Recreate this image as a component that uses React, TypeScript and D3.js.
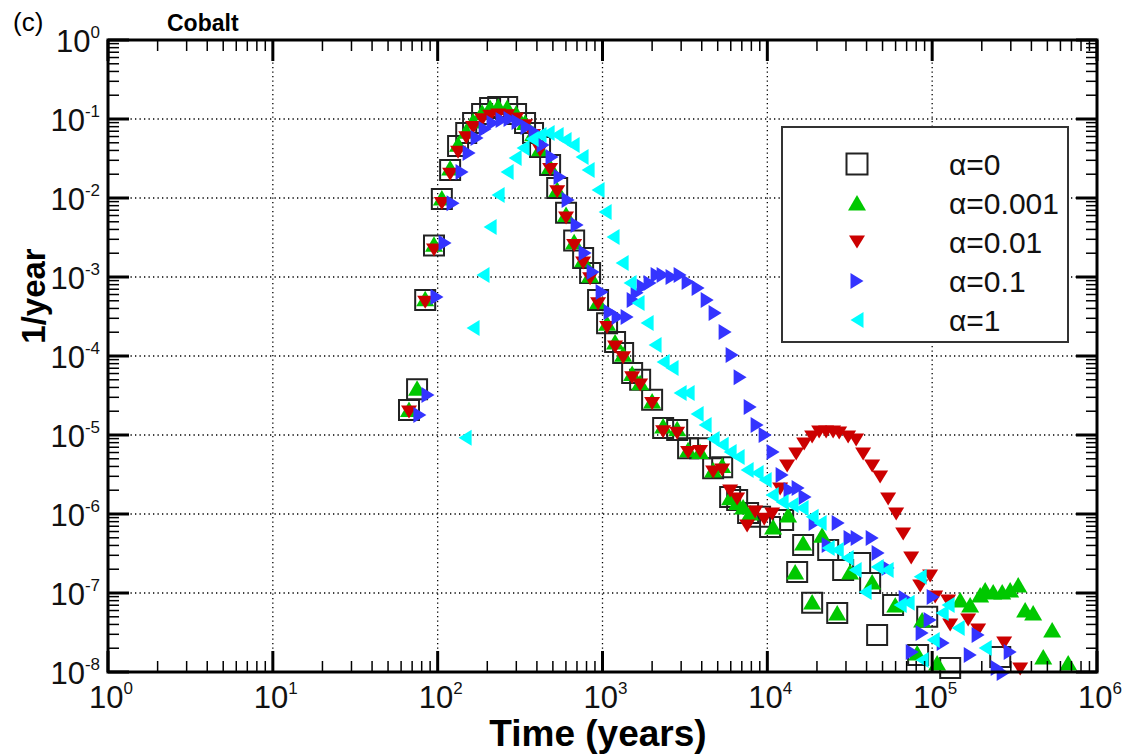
import React from "react";
import * as d3 from "d3";

const W = 1125;
const H = 756;
const PL = 108, PR = 1097, PT = 40, PB = 672;

const xTickValues = [1, 10, 100, 1000, 10000, 100000, 1000000];
const xTickExps = ["0", "1", "2", "3", "4", "5", "6"];
const yTickValues = [1, 1e-1, 1e-2, 1e-3, 1e-4, 1e-5, 1e-6, 1e-7, 1e-8];
const yTickExps = ["0", "-1", "-2", "-3", "-4", "-5", "-6", "-7", "-8"];

const seriesLabels = ["α=0", "α=0.001", "α=0.01", "α=0.1", "α=1"];
const seriesColors = ["none", "#00c800", "#cc0000", "#3434ff", "#00ffff"];

// alpha = 0 (open squares)
const alpha0: [number, number][] = [
  [67, 2.07e-5], [75, 3.8e-5], [84, 5.1e-4], [95, 2.5e-3], [106, 9.7e-3], [119, 0.0226],
  [133, 0.0455], [149, 0.0665], [164, 0.089], [186, 0.116], [208, 0.138], [233, 0.142],
  [264, 0.142], [299, 0.116], [339, 0.089], [379, 0.0665], [418, 0.0442], [481, 0.0262],
  [531, 0.0134], [601, 6.5e-3], [673, 2.9e-3], [763, 1.74e-3], [841, 1.12e-3], [940, 5.1e-4],
  [1066, 2.6e-4], [1192, 1.5e-4], [1334, 1.09e-4], [1513, 6.1e-5], [1692, 5.0e-5], [2000, 2.8e-5],
  [2333, 1.23e-5], [2838, 1.16e-5], [3306, 6.8e-6], [3909, 6.8e-6], [4690, 3.8e-6], [5322, 3.9e-6],
  [5946, 1.64e-6], [6561, 1.5e-6], [7644, 1.03e-6], [9036, 9.2e-7], [10390, 6.85e-7], [12470, 8.4e-7],
  [16490, 4.05e-7], [15170, 1.85e-7], [18700, 7.5e-8], [23400, 3.5e-7], [26550, 5.6e-8],
  [28840, 1.95e-7], [36560, 2.4e-7], [42050, 1.34e-7], [46360, 2.94e-8], [57940, 7.05e-8],
  [82200, 1.64e-8], [93300, 5.0e-8], [128600, 1.12e-8], [258800, 1.55e-8],
];

// alpha = 0.001 (green up triangles)
const alpha0001: [number, number][] = [
  [67, 2.1e-5], [75, 3.9e-5], [84, 5.3e-4], [95, 2.6e-3], [106, 1.0e-2], [119, 0.024],
  [133, 0.048], [149, 0.07], [164, 0.094], [186, 0.122], [208, 0.14], [233, 0.145],
  [264, 0.14], [299, 0.118], [339, 0.09], [379, 0.065], [418, 0.042], [481, 0.025],
  [531, 0.0128], [601, 6.2e-3], [673, 2.8e-3], [763, 1.65e-3], [841, 1.05e-3], [940, 4.9e-4],
  [1066, 2.6e-4], [1192, 1.5e-4], [1334, 1.05e-4], [1513, 6.0e-5], [1692, 4.6e-5], [2000, 2.7e-5],
  [2333, 1.3e-5], [2838, 1.2e-5], [3306, 6.5e-6], [3909, 6.2e-6], [4690, 3.6e-6], [5322, 4.1e-6],
  [5946, 1.6e-6], [6561, 1.4e-6], [7130, 1.23e-6], [7870, 1.03e-6], [10840, 6.85e-7], [13370, 9.7e-7],
  [14750, 1.85e-7], [16490, 4.3e-7], [18700, 7.7e-8], [21500, 5.4e-7], [26550, 5.6e-8],
  [31770, 1.85e-7], [43250, 1.38e-7], [59700, 7.05e-8], [81100, 1.74e-8], [86900, 4.55e-8],
  [107200, 1.3e-8], [148000, 8.15e-8], [170000, 7.05e-8], [195500, 9.4e-8], [209700, 1.09e-7],
  [234500, 1.03e-7], [266000, 1.03e-7], [297300, 1.09e-7], [332600, 1.26e-7], [366500, 6.1e-8],
  [410000, 5.6e-8], [472000, 1.55e-8], [534600, 3.4e-8], [668700, 1.3e-8],
];

// alpha = 0.01 (red down triangles)
const alpha001: [number, number][] = [
  [67, 1.95e-5], [84, 4.8e-4], [95, 2.2e-3], [106, 8.5e-3], [119, 0.02], [133, 0.038],
  [149, 0.058], [164, 0.078], [186, 0.098], [208, 0.108], [233, 0.112], [264, 0.11],
  [299, 0.1], [339, 0.082], [379, 0.062], [418, 0.04], [481, 0.023], [531, 0.012],
  [601, 5.6e-3], [673, 2.5e-3], [763, 1.5e-3], [841, 9.5e-4], [940, 4.6e-4], [1066, 2.3e-4],
  [1192, 1.3e-4], [1334, 9.5e-5], [1513, 5.3e-5], [1692, 4.3e-5], [2000, 2.5e-5], [2333, 1.1e-5],
  [2838, 1.05e-5], [3306, 6.0e-6], [3909, 6.2e-6], [4690, 3.4e-6], [5322, 3.6e-6], [5946, 1.95e-6],
  [6561, 1.55e-6], [7540, 7.05e-7], [8440, 1.06e-6], [9570, 8.6e-7], [10700, 1.0e-6], [11960, 2.07e-6],
  [13190, 4.05e-6], [14960, 5.74e-6], [16730, 7.7e-6], [18700, 9.4e-6], [20620, 1.09e-5],
  [22740, 1.09e-5], [25070, 1.09e-5], [27290, 1.06e-5], [30920, 9.4e-6], [34570, 8.65e-6],
  [38120, 5.74e-6], [43250, 4.05e-6], [48340, 2.94e-6], [54070, 1.55e-6], [60500, 1.0e-6],
  [66700, 5.6e-7], [74600, 2.77e-7], [84600, 1.23e-7], [97200, 1.64e-7], [104300, 8.9e-8],
  [125000, 7.9e-8], [128600, 3.94e-8], [165300, 4.55e-8], [190100, 3.4e-8], [273500, 2.33e-8],
  [342000, 1.09e-8],
];

// alpha = 0.1 (blue right triangles)
const alpha01: [number, number][] = [
  [78, 1.79e-5], [87.4, 3.2e-5], [99.1, 5.6e-4], [110.9, 2.69e-3], [124, 8.6e-3], [140.6, 0.0213],
  [155.2, 0.0371], [173.4, 0.0574], [194, 0.0746], [216.9, 0.089], [246, 0.097], [274.9, 0.1],
  [307.5, 0.0917], [348.5, 0.0792], [389.9, 0.0685], [436.2, 0.0469], [494.4, 0.033], [553, 0.0185],
  [618.6, 9.4e-3], [701.5, 4.55e-3], [784.4, 2.01e-3], [877, 1.16e-3], [995, 6.46e-4], [1112, 3.6e-4],
  [1244, 3.12e-4], [1410, 3.12e-4], [1535, 5.1e-4], [1622, 6.3e-4], [1763, 7.5e-4], [1944, 8.4e-4],
  [2144, 1.06e-3], [2333, 1.06e-3], [2643, 1.0e-3], [2958, 1.06e-3], [3306, 8.65e-4], [3802, 7.26e-4],
  [4315, 5.1e-4], [4822, 3.5e-4], [5546, 2.01e-4], [6114, 1.03e-4], [6836, 5.4e-5], [7870, 2.26e-5],
  [8670, 1.34e-5], [9700, 1.0e-5], [10840, 6.1e-6], [12300, 3.12e-6], [13740, 2.01e-6], [15380, 2.13e-6],
  [16940, 1.64e-6], [19500, 7.7e-7], [23400, 4.05e-7], [26900, 7.7e-7], [31770, 4.97e-7],
  [35070, 4.97e-7], [43250, 4.97e-7], [47000, 3.2e-7], [54070, 2.07e-7], [68600, 8.65e-8],
  [75700, 1.79e-8], [86900, 3.12e-8], [97200, 4.55e-8], [101400, 8.9e-8], [116600, 2.33e-8],
  [170200, 1.64e-8], [190100, 2.94e-8], [248000, 1.12e-8], [269700, 9.7e-9], [297300, 1.79e-8],
];

// alpha = 1 (cyan left triangles)
const alpha1: [number, number][] = [
  [146.7, 9.2e-6], [164, 2.26e-4], [188.4, 1.06e-3], [208, 4.3e-3], [232.6, 0.0109], [263.9, 0.0213],
  [295, 0.0321], [329.7, 0.043], [374.1, 0.0558], [418.1, 0.0627], [467.7, 0.0665], [530.6, 0.0627],
  [593, 0.0542], [663.4, 0.0469], [751.7, 0.033], [818.3, 0.0226], [940, 0.0126], [1037, 6.65e-3],
  [1159, 3.21e-3], [1315, 1.5e-3], [1470, 8.4e-4], [1644, 4.69e-4], [1866, 2.62e-4], [2084, 1.38e-4],
  [2333, 8.4e-5], [2643, 7.05e-5], [2958, 3.4e-5], [3306, 3.4e-5], [3750, 1.85e-5], [4195, 1.34e-5],
  [4690, 8.9e-6], [5322, 7.5e-6], [5946, 6.1e-6], [6650, 5.27e-6], [7540, 3.6e-6], [8670, 3.3e-6],
  [9700, 2.69e-6], [10700, 1.74e-6], [12300, 1.42e-6], [14130, 1.3e-6], [16250, 1.19e-6],
  [18700, 9.2e-7], [20900, 7.7e-7], [23400, 3.72e-7], [26550, 3.5e-7], [30500, 2.77e-7],
  [34100, 1.95e-7], [39200, 1.03e-7], [46400, 2.13e-7], [53300, 1.95e-7], [64000, 7.05e-8],
  [71500, 7.5e-8], [84600, 1.6e-7], [86900, 1.42e-8], [101400, 2.54e-8], [115000, 5.6e-8],
  [125000, 7.05e-8], [143800, 3.6e-8], [209700, 2.01e-8],
];

const x = d3.scaleLog().domain([1, 1e6]).range([PL, PR]);
const y = d3.scaleLog().domain([1e-8, 1]).range([PB, PT]);

type Shape = "square" | "up" | "down" | "right" | "left";

function markerPath(shape: Shape, cx: number, cy: number, s = 1): string {
  switch (shape) {
    case "square": {
      const h = 10 * s;
      return `M${cx - h},${cy - h}H${cx + h}V${cy + h}H${cx - h}Z`;
    }
    case "up":
      return `M${cx},${cy - 8 * s}L${cx + 9 * s},${cy + 7.5 * s}L${cx - 9 * s},${cy + 7.5 * s}Z`;
    case "down":
      return `M${cx - 8 * s},${cy - 6.5 * s}L${cx + 8 * s},${cy - 6.5 * s}L${cx},${cy + 6.5 * s}Z`;
    case "right":
      return `M${cx - 6.5 * s},${cy - 8 * s}L${cx + 6.5 * s},${cy}L${cx - 6.5 * s},${cy + 8 * s}Z`;
    case "left":
      return `M${cx + 6.5 * s},${cy - 8 * s}L${cx - 6.5 * s},${cy}L${cx + 6.5 * s},${cy + 8 * s}Z`;
  }
}

const seriesData = [alpha0, alpha0001, alpha001, alpha01, alpha1];
const seriesShapes: Shape[] = ["square", "up", "down", "right", "left"];

const FONT = "'Liberation Sans', Arial, Helvetica, sans-serif";

export default function App() {
  const minorX: number[] = [];
  for (let e = 0; e < 6; e++) for (let k = 2; k <= 9; k++) minorX.push(k * Math.pow(10, e));
  const minorY: number[] = [];
  for (let e = -8; e < 0; e++) for (let k = 2; k <= 9; k++) minorY.push(k * Math.pow(10, e));

  const gridX = xTickValues.slice(1, -1);
  const gridY = yTickValues.slice(1, -1);

  return (
    <svg
      width={W}
      height={H}
      style={{ position: "absolute", left: 0, top: 0, background: "#fff" }}
      fontFamily={FONT}
    >
      <rect x={0} y={0} width={W} height={H} fill="#fff" />
      {/* grid */}
      <g stroke="#000" strokeWidth={1.3} strokeDasharray="1.3,3.2">
        {gridX.map((v) => (
          <line key={"gx" + v} x1={x(v)} x2={x(v)} y1={PT} y2={PB} />
        ))}
        {gridY.map((v) => (
          <line key={"gy" + v} x1={PL} x2={PR} y1={y(v)} y2={y(v)} />
        ))}
      </g>

      {/* data */}
      {seriesData.map((data, si) => (
        <g key={"s" + si}>
          {data.map((d, i) => (
            <path
              key={i}
              d={markerPath(seriesShapes[si], x(d[0]), y(d[1]))}
              fill={seriesColors[si]}
              stroke={si === 0 ? "#222" : "none"}
              strokeWidth={si === 0 ? 2 : 0}
            />
          ))}
        </g>
      ))}

      {/* ticks */}
      <g stroke="#000">
        {minorX.map((v) => (
          <g key={"mx" + v} strokeWidth={1.5}>
            <line x1={x(v)} x2={x(v)} y1={PB} y2={PB - 11} />
            <line x1={x(v)} x2={x(v)} y1={PT} y2={PT + 11} />
          </g>
        ))}
        {minorY.map((v) => (
          <g key={"my" + v} strokeWidth={1.5}>
            <line x1={PL} x2={PL + 11} y1={y(v)} y2={y(v)} />
            <line x1={PR} x2={PR - 11} y1={y(v)} y2={y(v)} />
          </g>
        ))}
        {xTickValues.map((v) => (
          <g key={"Mx" + v} strokeWidth={3}>
            <line x1={x(v)} x2={x(v)} y1={PB} y2={PB - 21} />
            <line x1={x(v)} x2={x(v)} y1={PT} y2={PT + 21} />
          </g>
        ))}
        {yTickValues.map((v) => (
          <g key={"My" + v} strokeWidth={3}>
            <line x1={PL} x2={PL + 21} y1={y(v)} y2={y(v)} />
            <line x1={PR} x2={PR - 21} y1={y(v)} y2={y(v)} />
          </g>
        ))}
      </g>

      {/* frame */}
      <rect x={PL} y={PT} width={PR - PL} height={PB - PT} fill="none" stroke="#000" strokeWidth={3} />

      {/* legend */}
      <rect x={782} y={127} width={286} height={215} fill="#fff" stroke="#333" strokeWidth={2} />
      {seriesLabels.map((lab, i) => {
        const cy = 164 + i * 39;
        return (
          <g key={"lg" + i}>
            <path
              d={markerPath(seriesShapes[i], 857, cy, i === 0 ? 1.05 : 1)}
              fill={seriesColors[i]}
              stroke={i === 0 ? "#222" : "none"}
              strokeWidth={i === 0 ? 2 : 0}
            />
            <text x={949} y={cy + 11} fontSize={30} fill="#111">
              {lab}
            </text>
          </g>
        );
      })}

      {/* y tick labels */}
      {yTickValues.map((v, i) => (
        <text key={"yl" + v} x={100} y={y(v) + 12} fontSize={31} textAnchor="end" fill="#111">
          10
          <tspan fontSize={17} dy={-14}>
            {yTickExps[i]}
          </tspan>
        </text>
      ))}

      {/* x tick labels */}
      {xTickValues.map((v, i) => (
        <text key={"xl" + v} x={x(v) + 3} y={708} fontSize={31} textAnchor="middle" fill="#111">
          10
          <tspan fontSize={17} dy={-14}>
            {xTickExps[i]}
          </tspan>
        </text>
      ))}

      {/* axis titles */}
      <text x={598} y={746} fontSize={37} fontWeight="bold" textAnchor="middle" fill="#000">
        Time (years)
      </text>
      <text
        transform="translate(45,296) rotate(-90)"
        fontSize={33}
        fontWeight="bold"
        textAnchor="middle"
        fill="#000"
      >
        1/year
      </text>

      {/* panel labels */}
      <text x={13} y={31} fontSize={26} fill="#000">
        (c)
      </text>
      <text x={167} y={31} fontSize={23} fontWeight="bold" fill="#000">
        Cobalt
      </text>
    </svg>
  );
}
